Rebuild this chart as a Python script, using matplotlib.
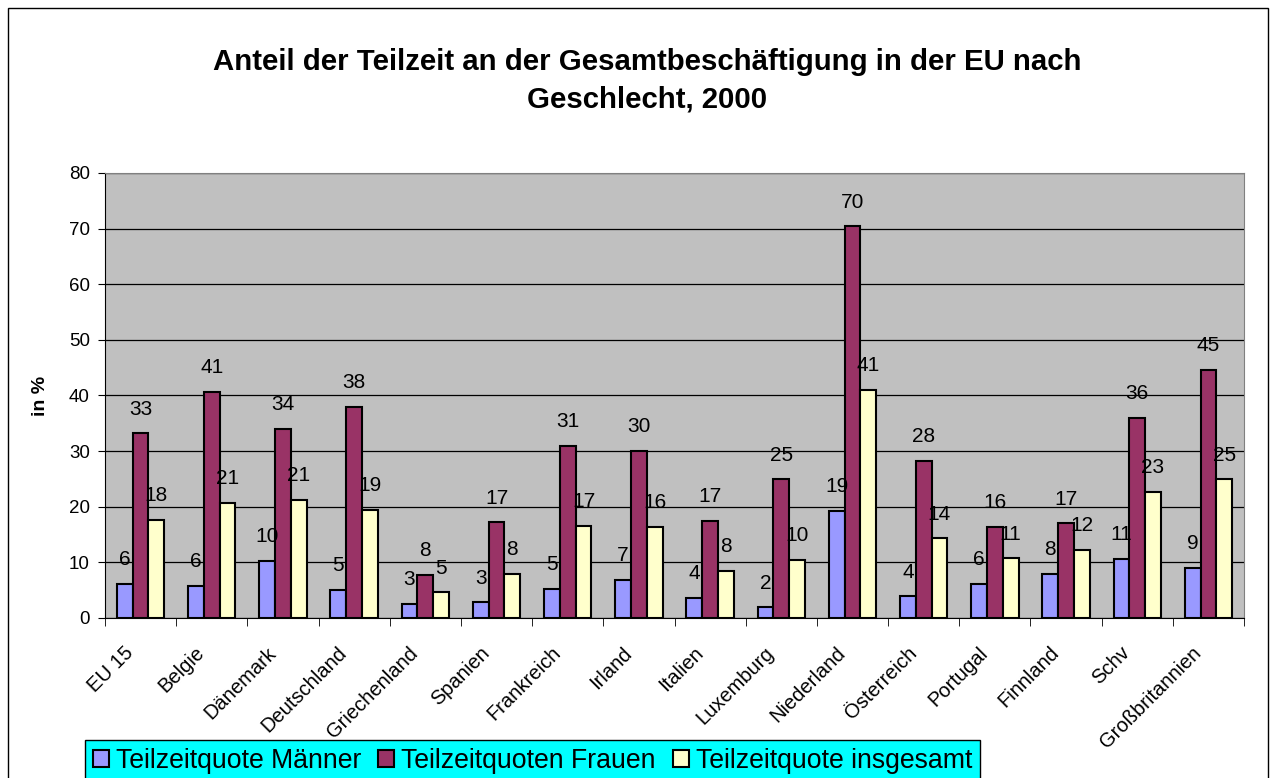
import matplotlib
matplotlib.use("Agg")
import matplotlib.pyplot as plt
import matplotlib.transforms as mtransforms
import numpy as np
from matplotlib.patches import Rectangle

plt.rcParams['font.family'] = ['Liberation Sans', 'DejaVu Sans']

categories = ["EU 15", "Belgie", "Dänemark", "Deutschland", "Griechenland", "Spanien",
              "Frankreich", "Irland", "Italien", "Luxemburg", "Niederland", "Österreich",
              "Portugal", "Finnland", "Schv", "Großbritannien"]
maenner = [6.1, 5.7, 10.2, 5.0, 2.6, 2.8, 5.3, 6.9, 3.6, 1.9, 19.3, 3.9, 6.1, 8.0, 10.6, 9.0]
frauen = [33.2, 40.6, 34.0, 37.9, 7.8, 17.2, 31.0, 30.1, 17.4, 24.9, 70.4, 28.3, 16.4, 17.0, 36.0, 44.6]
insgesamt = [17.7, 20.7, 21.3, 19.4, 4.6, 8.0, 16.6, 16.4, 8.4, 10.4, 41.0, 14.3, 10.7, 12.2, 22.6, 24.9]
series_names = ["Teilzeitquote Männer", "Teilzeitquoten Frauen", "Teilzeitquote insgesamt"]
colors = ["#9999FF", "#993366", "#FFFFCC"]
title_lines = ["Anteil der Teilzeit an der Gesamtbeschäftigung in der EU nach", "Geschlecht, 2000"]

W, H = 1270, 778
fig = plt.figure(figsize=(W / 100, H / 100), dpi=100)
fig.patch.set_facecolor("white")
# outer chart border
fig.add_artist(Rectangle((8 / W, -0.1), (1268 - 8) / W, 1.1 - 8 / H, transform=fig.transFigure,
                         fill=False, edgecolor="black", linewidth=1.0))

ax = fig.add_axes([105 / W, 1 - 618 / H, (1244 - 105) / W, (618 - 173) / H])
ax.set_facecolor("#C0C0C0")

x = np.arange(len(categories))
bw = 0.222
for i, (vals, c) in enumerate(zip([maenner, frauen, insgesamt], colors)):
    pos = x + (i - 1) * bw
    ax.bar(pos, vals, width=bw, color=c, edgecolor="black", linewidth=1.5,
           label=series_names[i], zorder=3)
    for px, v in zip(pos, vals):
        ax.annotate(f"{v:.0f}", (px, v), xytext=(0, 17.5), textcoords="offset points",
                    ha="center", va="center", fontsize=15, zorder=4)

ax.set_ylim(0, 80)
ax.set_xlim(-0.5, len(categories) - 0.5)
ax.set_yticks(np.arange(0, 81, 10))
ax.yaxis.grid(True, color="black", linewidth=0.9, zorder=1)
ax.set_axisbelow(True)
ax.tick_params(axis="y", labelsize=13.5, length=5, direction="out", pad=6)
ax.set_xticks(x)
ax.set_xticklabels(categories, rotation=45, ha="right", va="center",
                   rotation_mode="anchor", fontsize=14.5)
ax.tick_params(axis="x", length=0, pad=23)
shift = mtransforms.ScaledTranslation(-0.10, 0, fig.dpi_scale_trans)
for lbl in ax.get_xticklabels():
    lbl.set_transform(lbl.get_transform() + shift)
ax.set_xticks(np.arange(-0.5, len(categories), 1), minor=True)
ax.tick_params(axis="x", which="minor", length=6, direction="out")
for s in ["top", "right"]:
    ax.spines[s].set_color("#808080")
ax.spines["left"].set_color("black")
ax.spines["bottom"].set_color("black")
ax.set_ylabel("in %", fontsize=14, fontweight="bold", labelpad=14)

fig.text(647 / W, 1 - 62 / H, title_lines[0], ha="center", va="center", fontsize=21.2,
         fontweight="bold")
fig.text(647 / W, 1 - 100 / H, title_lines[1], ha="center", va="center", fontsize=21.2,
         fontweight="bold")

leg = fig.legend(loc="upper left", bbox_to_anchor=(85 / W, 1 - 740 / H), ncol=3,
                 fontsize=19.2, frameon=True, fancybox=False, framealpha=1,
                 facecolor="#00FFFF", edgecolor="black", handlelength=0.6,
                 handleheight=0.6, handletextpad=0.25, columnspacing=0.65,
                 borderpad=0.3, borderaxespad=0)
leg.get_frame().set_linewidth(1.0)

fig.savefig("out.png", dpi=100)
